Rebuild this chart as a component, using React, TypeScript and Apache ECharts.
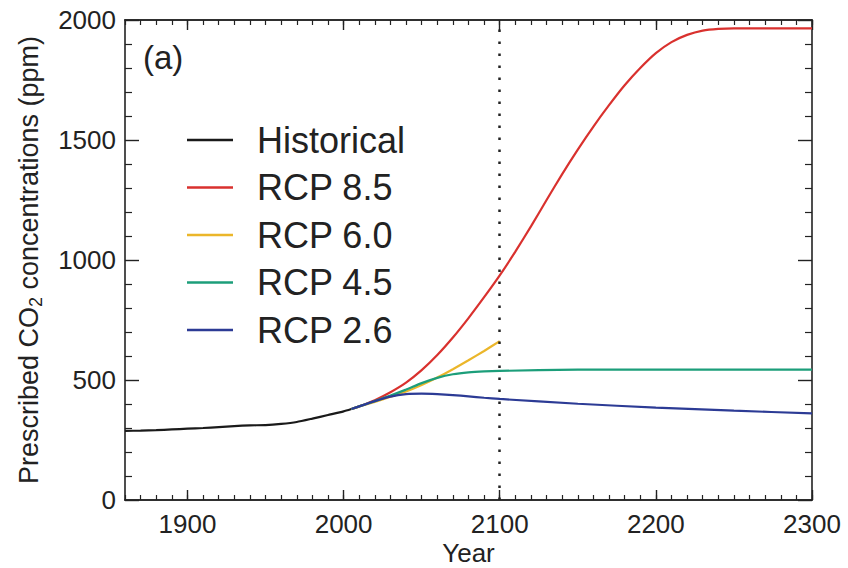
import React, { useEffect, useRef } from 'react';
import * as echarts from 'echarts';

const histYears = [1860, 1870, 1880, 1890, 1900, 1910, 1920, 1930, 1940, 1950, 1960, 1970, 1980, 1990, 2000, 2005];
const histCO2 = [288, 289, 291, 294, 297, 300, 304, 308, 311, 312, 317, 325, 339, 354, 369, 379];

const rcpYears = [2005, 2010, 2020, 2030, 2040, 2050, 2060, 2070, 2080, 2090, 2100];
const rcp85 = [379, 390, 416, 449, 489, 541, 604, 677, 758, 845, 936];
const rcp60 = [379, 390, 409, 430, 452, 479, 510, 545, 582, 621, 662];
const rcp45 = [379, 390, 412, 435, 460, 487, 509, 524, 532, 536, 538];
const rcp26 = [379, 390, 412, 431, 441, 443, 441, 437, 432, 426, 421];

const ext85Years = [2110, 2120, 2130, 2140, 2150, 2160, 2170, 2180, 2190, 2200, 2210, 2220, 2230, 2240, 2250, 2300];
const ext85 = [1035, 1140, 1250, 1358, 1460, 1556, 1645, 1728, 1800, 1862, 1908, 1938, 1956, 1963, 1965, 1965];
const extYears = [2150, 2200, 2250, 2300];
const ext45 = [543, 543, 543, 543];
const ext26 = [401, 385, 372, 361];

const xMajor = [1900, 2000, 2100, 2200, 2300];
const seriesNames = ['Historical', 'RCP 8.5', 'RCP 6.0', 'RCP 4.5', 'RCP 2.6'];
const colors = ['#1a1a1a', '#d9312e', '#ebb62a', '#1c9e7a', '#2c3b95'];

const FONT = '"Liberation Sans", Arial, Helvetica, sans-serif';
const INK = '#222';

function pairs(xs: number[], ys: number[]) {
  return xs.map((x, i) => [x, ys[i]]);
}

export default function App() {
  const ref = useRef<HTMLDivElement>(null);
  useEffect(() => {
    if (!ref.current) return;
    const chart = echarts.init(ref.current, null, { renderer: 'svg' });
    const axisLine = { show: true, onZero: false, lineStyle: { color: INK, width: 1.6 } };
    const tickMajor = { color: INK, width: 1.4 };
    const tickMinor = { color: INK, width: 1.2 };
    const xBase = { type: 'value', min: 1860, max: 2300, gridIndex: 0, splitLine: { show: false } };
    const yBase = { type: 'value', min: 0, max: 2000, interval: 500, splitLine: { show: false } };
    const plain = (v: number) => String(v);
    const line = (name: string, data: number[][], color: string, extra: any = {}) => ({
      name,
      type: 'line',
      data,
      symbol: 'none',
      smooth: 0.2,
      lineStyle: { color, width: 2.2 },
      itemStyle: { color },
      ...extra,
    });
    chart.setOption({
      animation: false,
      backgroundColor: '#fff',
      textStyle: { fontFamily: FONT },
      grid: { left: 125, right: 36, top: 20, bottom: 68, containLabel: false, outerBoundsMode: 'none' },
      xAxis: [
        {
          ...xBase,
          position: 'bottom',
          name: 'Year',
          nameLocation: 'middle',
          nameGap: 39,
          nameMoveOverlap: false,
          nameTextStyle: { fontSize: 26, lineHeight: 28, color: INK, fontFamily: FONT },
          axisLine,
          axisTick: { show: true, inside: true, length: 10, customValues: xMajor, lineStyle: tickMajor },
          axisLabel: { show: true, customValues: xMajor, margin: 11, fontSize: 26, color: INK, fontFamily: FONT, formatter: plain },
        },
        {
          ...xBase,
          position: 'bottom',
          interval: 10,
          axisLine: { show: true, onZero: false, lineStyle: { color: INK, width: 1.6 } },
          axisTick: { show: true, inside: true, length: 5, lineStyle: tickMinor },
          axisLabel: { show: false },
        },
        {
          ...xBase,
          position: 'top',
          axisLine,
          axisTick: { show: true, inside: true, length: 10, customValues: xMajor, lineStyle: tickMajor },
          axisLabel: { show: false, customValues: xMajor },
        },
        {
          ...xBase,
          position: 'top',
          interval: 10,
          axisLine: { show: true, onZero: false, lineStyle: { color: INK, width: 1.6 } },
          axisTick: { show: true, inside: true, length: 5, lineStyle: tickMinor },
          axisLabel: { show: false },
        },
      ],
      yAxis: [
        {
          ...yBase,
          position: 'left',
          name: 'Prescribed CO{sub|2} concentrations (ppm)',
          nameLocation: 'middle',
          nameGap: 80,
          nameMoveOverlap: false,
          nameTextStyle: {
            fontSize: 27,
            color: INK,
            fontFamily: FONT,
            lineHeight: 32,
            rich: {
              sub: { fontSize: 18, color: INK, fontFamily: FONT, verticalAlign: 'bottom', lineHeight: 32 },
            },
          },
          axisLine,
          axisTick: { show: true, inside: true, length: 14, lineStyle: tickMajor },
          minorTick: { show: true, splitNumber: 5, length: 7, lineStyle: tickMinor },
          axisLabel: { show: true, margin: 9, fontSize: 26, color: INK, fontFamily: FONT, formatter: plain },
        },
        {
          ...yBase,
          position: 'right',
          axisLine,
          axisTick: { show: true, inside: true, length: 14, lineStyle: tickMajor },
          minorTick: { show: true, splitNumber: 5, length: 7, lineStyle: tickMinor },
          axisLabel: { show: false },
        },
      ],
      legend: {
        orient: 'vertical',
        left: 182,
        top: 117,
        icon: 'rect',
        itemWidth: 46,
        itemHeight: 2.5,
        itemGap: 11.5,
        data: seriesNames,
        textStyle: { fontSize: 36, lineHeight: 36, color: INK, fontFamily: FONT, padding: [0, 0, 0, 19] },
      },
      graphic: [
        {
          type: 'text',
          left: 143,
          top: 41,
          style: { text: '(a)', fontSize: 33, fill: INK, fontFamily: FONT },
        },
      ],
      series: [
        line(seriesNames[0], pairs(histYears, histCO2), colors[0]),
        line(seriesNames[1], pairs(rcpYears, rcp85).concat(pairs(ext85Years, ext85)), colors[1]),
        line(seriesNames[2], pairs(rcpYears, rcp60), colors[2], {
          markLine: {
            silent: true,
            symbol: ['none', 'none'],
            label: { show: false },
            lineStyle: { color: INK, type: [2.5, 9.5], width: 2.5 },
            data: [{ xAxis: 2100 }],
          },
        }),
        line(seriesNames[3], pairs(rcpYears, rcp45).concat(pairs(extYears, ext45)), colors[3]),
        line(seriesNames[4], pairs(rcpYears, rcp26).concat(pairs(extYears, ext26)), colors[4]),
      ],
    });
    return () => chart.dispose();
  }, []);
  return <div ref={ref} style={{ position: 'fixed', left: 0, top: 0, width: 848, height: 568 }} />;
}
